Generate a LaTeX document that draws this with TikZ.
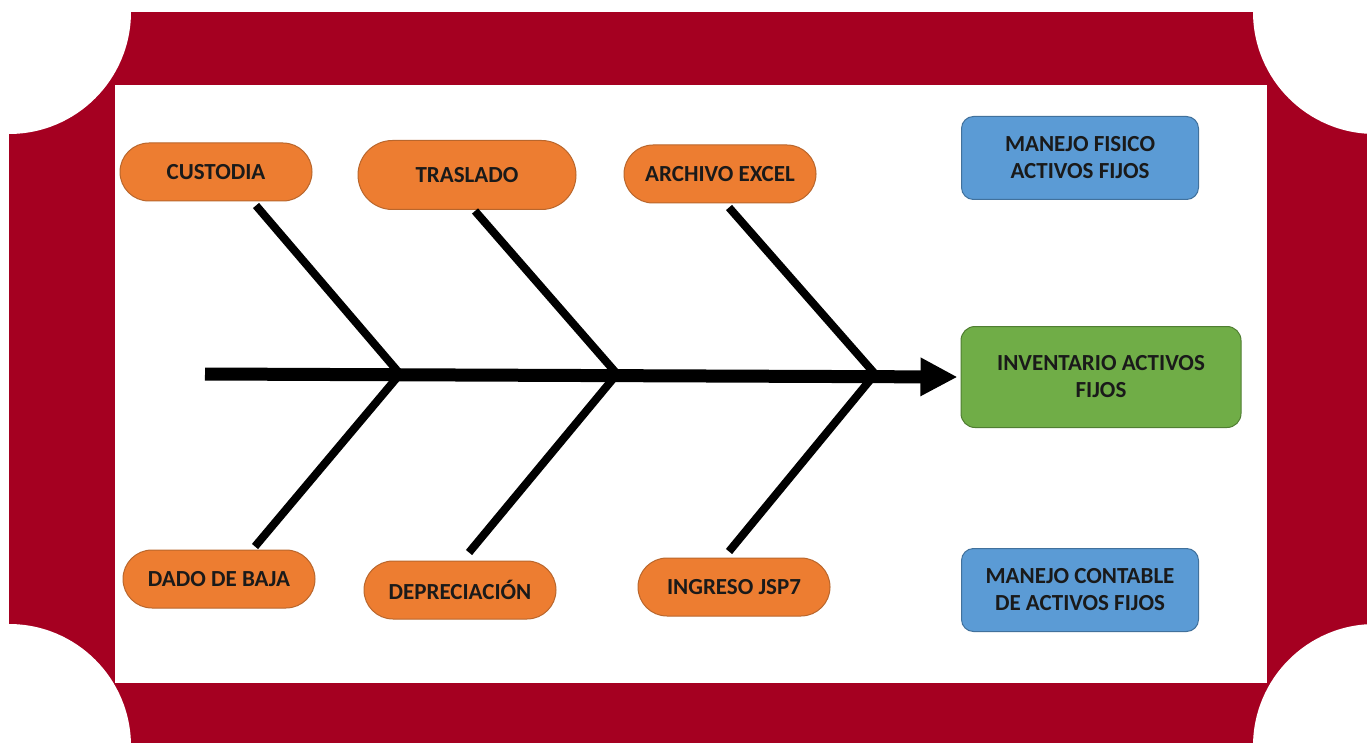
\documentclass[tikz,border=0pt]{standalone}
\usepackage{fontspec}
\setmainfont{Carlito}
\usepackage{tikz}
\usetikzlibrary{arrows.meta,shapes.misc}
\definecolor{framered}{HTML}{A50021}
\definecolor{causeorange}{HTML}{ED7D31}
\definecolor{causeline}{HTML}{B9662C}
\definecolor{sideblue}{HTML}{5B9BD5}
\definecolor{sideline}{HTML}{41719C}
\definecolor{effectgreen}{HTML}{70AD47}
\definecolor{effectline}{HTML}{507E32}
\definecolor{boxtext}{HTML}{1A1A1A}
\newcommand{\boxfont}{\fontsize{23}{27}\selectfont\bfseries}
\tikzset{
  cause/.style={rounded rectangle, draw=causeline, fill=causeorange, line width=1,
    minimum width=200, minimum height=58, inner xsep=4, font=\boxfont, text=boxtext},
  sidebox/.style={rectangle, rounded corners=12, draw=sideline, fill=sideblue, line width=1,
    minimum width=237, minimum height=83, inner xsep=2, align=center, font=\boxfont, text=boxtext},
  effect/.style={rectangle, rounded corners=14, draw=effectline, fill=effectgreen, line width=1,
    minimum width=280, minimum height=101, align=center, font=\boxfont, text=boxtext},
  bone/.style={line width=8},
}

\begin{document}
\begin{tikzpicture}[x=1pt,y=-1pt]
\useasboundingbox (0,0) rectangle (1367,743);
\begin{scope}
\clip (0,0) rectangle (1367,743);
\fill[framered] (9,12) rectangle (1375,746);
\fill[white] (9,12) circle[radius=122];
\fill[white] (1375,12) circle[radius=122];
\fill[white] (9,746) circle[radius=122];
\fill[white] (1375,746) circle[radius=122];
\fill[white] (115,85) rectangle (1267,683);
\end{scope}

\node[cause] (cust) at (216,172) {CUSTODIA};
\node[cause, minimum width=226, minimum height=69] (trasl) at (467,175) {TRASLADO};
\node[cause] (excel) at (720,174) {ARCHIVO EXCEL};
\node[cause] (baja) at (219,579) {DADO DE BAJA};
\node[cause] (depre) at (460,590) {DEPRECIACIÓN};
\node[cause] (jsp) at (734,587) {INGRESO JSP7};

\node[sidebox] (fisico) at (1080,158) {MANEJO FISICO\\ACTIVOS FIJOS};
\node[sidebox] (contable) at (1080,590) {MANEJO CONTABLE\\DE ACTIVOS FIJOS};
\node[effect] (inv) at (1101,377) {INVENTARIO ACTIVOS\\FIJOS};

\coordinate (tail) at (205,374);
\coordinate (j1) at (400,374);
\coordinate (j2) at (617,374);
\coordinate (j3) at (875,374);

\draw[line width=13, -{Triangle[length=37pt,width=36pt]}] (tail) -- ([xshift=-3]inv.west);

\draw[bone] ([shift={(40,4)}]cust.south) -- (j1) -- ([shift={(36,-3)}]baja.north);
\draw[bone] ([shift={(8,1)}]trasl.south) -- (j2) -- ([shift={(9,-8)}]depre.north);
\draw[bone] ([shift={(9,4)}]excel.south) -- (j3) -- ([shift={(-5,-6)}]jsp.north);
\end{tikzpicture}
\end{document}
